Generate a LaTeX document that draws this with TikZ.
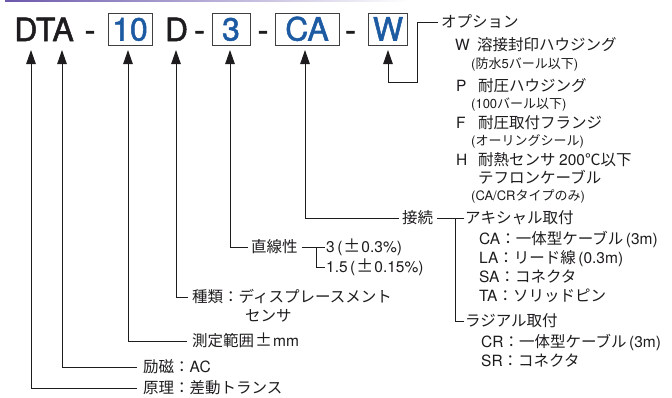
\documentclass[tikz,border=0pt]{standalone}
\usepackage{fontspec}
\setmainfont{TeX Gyre Heros}
\newfontfamily\cjk{Noto Sans CJK JP}
\newfontfamily\hvf{TeX Gyre Heros}
\newfontfamily\hvt{TeX Gyre Heros}[FakeBold=1.6]
\usetikzlibrary{arrows.meta}
\definecolor{boxblue}{RGB}{28,90,162}
\definecolor{barpurple}{RGB}{108,88,172}
\definecolor{ink}{RGB}{30,28,30}
\tikzset{
  ttl/.style={inner sep=0pt, text height=23pt, text depth=0pt, font=\hvt\fontsize{32}{32}\selectfont, text=ink},
  codebox/.style={ttl, draw=black!75, line width=1pt, minimum height=32pt, text=boxblue},
  lab/.style={anchor=west, inner sep=0pt, text height=13.6pt, text depth=1.8pt, font=\cjk\fontsize{15.5}{16}\selectfont, text=ink},
  small/.style={anchor=west, inner sep=0pt, text height=11.4pt, text depth=1.5pt, font=\cjk\fontsize{13}{14}\selectfont, text=ink},
  arr/.style={draw=ink, line width=1pt, -{Triangle[length=14pt,width=9.5pt]}},
  conn/.style={draw=ink, line width=1pt}
}
\newcommand\lp{\hspace{2.5pt}{\hvf (}}
\newcommand\rp{{\hvf )}}
\newcommand\pmj{\hspace{1pt}{\cjk\fontsize{17}{17}\selectfont ±}\hspace{1pt}}
\begin{document}
\begin{tikzpicture}[x=1pt,y=-1pt]
\useasboundingbox (0,0) rectangle (672,397);
\shade[left color=barpurple, right color=white] (5,0) rectangle (410,1.6);

% title row
\node[ttl] (dta) at (44,29.5) {DTA};
\node[ttl] (h1) at (90,29.5) {-};
\node[codebox, minimum width=44pt] (b10) at (130,29) {10};
\node[ttl] (dd) at (176.5,29.5) {D};
\node[ttl] (h2) at (199.5,29.5) {-};
\node[codebox, minimum width=38pt] (b3) at (231,29) {3};
\node[ttl] (h3) at (263,29.5) {-};
\node[codebox, minimum width=64pt] (bca) at (307,29) {CA};
\node[ttl] (h4) at (350.5,29.5) {-};
\node[codebox, minimum width=39pt] (bw) at (388,29) {W};

% arrow tips
\coordinate (t1) at (31,50);
\coordinate (t2) at (62,50);
\coordinate (t3) at (128,50);
\coordinate (t4) at (176,50);
\coordinate (t5) at (230,50);
\coordinate (t6) at (305,50);
\coordinate (t7) at (388,50);
\coordinate (wc) at (417,82);

% options
\node[lab] (opt) at (441,22) {オプション};
\node[lab] (ow) at (455,45) {\makebox[22pt][l]{\hvf W}溶接封印ハウジング};
\node[small] (ow2) at (471,64) {{\hvf (}防水{\hvf 5}バール以下{\hvf )}};
\node[lab] (op) at (456,86) {\makebox[22pt][l]{\hvf P}耐圧ハウジング};
\node[small] (op2) at (471,104) {{\hvf (100}バール以下{\hvf )}};
\node[lab] (of) at (456,123) {\makebox[22pt][l]{\hvf F}耐圧取付フランジ};
\node[small] (of2) at (471,141) {{\hvf (}オーリングシール{\hvf )}};
\node[lab] (oh) at (456,160) {\makebox[22pt][l]{\hvf H}耐熱センサ {\hvf 200}℃以下};
\node[lab] (oh2) at (478,178) {テフロンケーブル};
\node[small] (oh3) at (471,196) {{\hvf (CA/CR}タイプのみ{\hvf )}};

% connection
\node[lab] (setsu) at (402,218) {接続};
\node[lab] (axial) at (465,218) {アキシャル取付};
\node[lab] (ca) at (479,239) {{\hvf CA}：一体型ケーブル\lp{\hvf 3m}\rp};
\node[lab] (la) at (479,258) {{\hvf LA}：リード線\lp{\hvf 0.3m}\rp};
\node[lab] (sa) at (479,277) {{\hvf SA}：コネクタ};
\node[lab] (ta) at (479,296) {{\hvf TA}：ソリッドピン};
\node[lab] (radial) at (465,321) {ラジアル取付};
\node[lab] (cr) at (481,342) {{\hvf CR}：一体型ケーブル\lp{\hvf 3m}\rp};
\node[lab] (sr) at (481,361) {{\hvf SR}：コネクタ};
\coordinate (ax) at (455,218);

% linearity
\node[lab] (chok) at (251,247) {直線性};
\node[lab] (lin3) at (326,247) {{\hvf 3}\lp\pmj{\hvf 0.3\%}\rp};
\node[lab] (lin15) at (326,267) {{\hvf 1.5}\lp\pmj{\hvf 0.15\%}\rp};
\coordinate (lb) at (316,247);

% other labels
\node[lab] (shurui) at (192,297) {種類：ディスプレースメント};
\node[lab] (sensa) at (245,316) {センサ};
\node[lab] (sokutei) at (192,341) {測定範囲\pmj{\hvf mm}};
\node[lab] (reiji) at (143,367) {励磁：{\hvf AC}};
\node[lab] (genri) at (143,388) {原理：差動トランス};

% connectors with arrows
\draw[arr, shorten <=6pt] (genri.west) -| (t1);
\draw[arr, shorten <=6pt] (reiji.west) -| (t2);
\draw[arr, shorten <=5pt] (sokutei.west) -| (t3);
\draw[arr, shorten <=4pt] (shurui.west) -| (t4);
\draw[arr, shorten <=3pt] (chok.west) -| (t5);
\draw[arr, shorten <=3pt] (setsu.west) -| (t6);
\draw[arr, shorten <=3pt] (opt.west) -| (wc) -| (t7);

% brackets
\draw[conn, shorten <=4pt, shorten >=1pt] (chok.east) -- (lin3.west);
\draw[conn, shorten >=1pt] (lb) |- (lin15.west);
\draw[conn, shorten <=4pt, shorten >=1pt] (setsu.east) -- (axial.west);
\draw[conn, shorten >=1pt] (ax) |- (radial.west);
\end{tikzpicture}
\end{document}
